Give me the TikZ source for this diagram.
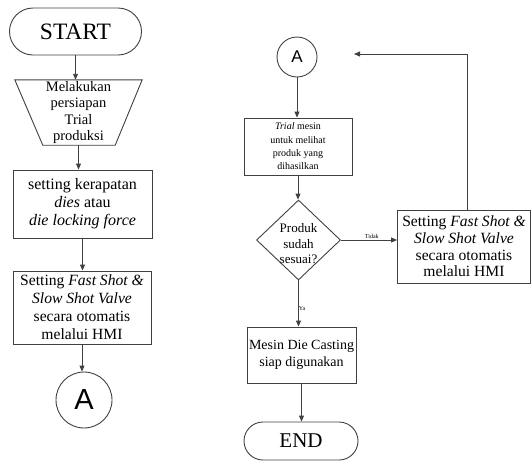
\documentclass[tikz,border=0pt]{standalone}
\usepackage{fontspec}
\setmainfont{Liberation Serif}
\setsansfont{Liberation Sans}
\usetikzlibrary{shapes.geometric,arrows.meta,calc}
\newcommand{\fsz}[2]{\fontsize{#1}{#2}\selectfont}
\begin{document}
\begin{tikzpicture}[x=1pt,y=-1pt,
  line/.style={draw=black!75, line width=0.9pt},
  arr/.style={line, -{Triangle[length=6pt,width=5pt]}},
  box/.style={line, rectangle, align=center, inner sep=1pt},
  term/.style={line, rectangle, align=center, inner sep=0pt},
  conn/.style={line, circle, inner sep=0pt, font=\sffamily},
  lbl/.style={inner sep=1pt, font=\fsz{6}{7}}
]
\useasboundingbox (0,0) rectangle (532,461);

% ---------- left column ----------
\node[term, minimum width=132pt, minimum height=47pt, rounded corners=23.5pt, font=\fsz{23.5}{25}] (start) at (75.5,31.5) {START};

\node[inner sep=0pt, minimum width=127pt, minimum height=65pt, align=center, font=\fsz{14.5}{16.5}] (trap) at (78.5,112.5) {Melakukan\\persiapan\\Trial\\produksi};
\draw[line] (trap.north west) -- (trap.north east) -- ($(trap.south east)+(-27,0)$) -- ($(trap.south west)+(28,0)$) -- cycle;

\node[box, minimum width=139pt, minimum height=68pt, font=\fsz{16}{18}] (b1) at (82.5,204) {setting kerapatan\\\textit{dies} atau\\\textit{die locking force}};

\node[box, minimum width=138pt, minimum height=73pt, font=\fsz{15.6}{18}] (b2) at (82,307.5) {Setting \textit{Fast Shot \&}\\\textit{Slow Shot Valve}\\secara otomatis\\melalui HMI};

\node[conn, minimum size=56pt, font=\sffamily\fsz{29}{30}] (a1) at (84,400) {A};

\draw[arr] (start) -- (start |- trap.north);
\draw[arr] (trap.south) -- (trap.south |- b1.north);
\draw[arr] (b1.south) -- (b1.south |- b2.north);
\draw[arr] (b2.south) -- (b2.south |- a1.north);

% ---------- right column ----------
\node[conn, minimum size=40pt, font=\sffamily\fsz{17}{19}] (a2) at (297,57) {A};

\node[box, minimum width=108pt, minimum height=57pt, font=\fsz{10}{13.3}] (trial) at (298,146.5) {\textit{Trial} mesin\\untuk melihat\\produk yang\\dihasilkan};

\node[line, diamond, aspect=1.06, inner sep=0pt, minimum width=84pt, minimum height=80pt,
  label={[align=center, font=\fsz{13}{15.5}, yshift=-4pt, inner sep=0pt]center:Produk\\sudah\\sesuai?}] (dia) at (298.5,240) {};

\node[box, minimum width=133pt, minimum height=73pt, font=\fsz{15.6}{16.7}] (rb) at (464,246.5) {Setting \textit{Fast Shot \&}\\\textit{Slow Shot Valve}\\secara otomatis\\melalui HMI};

\node[box, minimum width=109pt, minimum height=56pt, font=\fsz{14}{17}] (mesin) at (301.5,355) {Mesin Die Casting\\siap digunakan};

\node[term, minimum width=114pt, minimum height=38pt, rounded corners=19pt, font=\fsz{21}{22}] (end) at (301,441) {END};

\coordinate (fbend) at (354,54);

\draw[arr] (a2) -- (a2 |- trial.north);
\draw[arr] (trial.south) -- (trial.south |- dia.north);
\draw[arr] (dia.east) -- (dia.east -| rb.west) node[lbl, pos=0.55, above] {Tidak};
\draw[arr] (dia.south) -- (dia.south |- mesin.north) node[lbl, pos=0.62, right, inner sep=0pt] {Ya};
\draw[arr] (mesin.south) -- (mesin.south |- end.north);
\draw[arr] ($(rb.north)+(3,0)$) |- (fbend);
\end{tikzpicture}
\end{document}
